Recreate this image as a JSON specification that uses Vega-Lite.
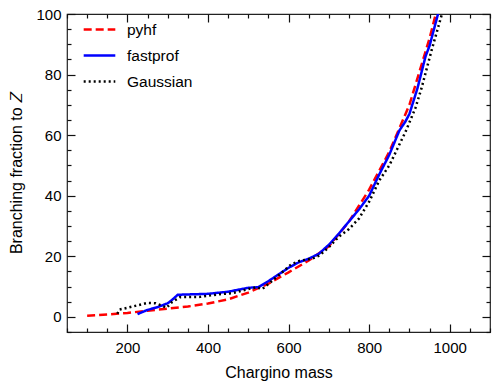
{
  "$schema": "https://vega.github.io/schema/vega-lite/v6.json",
  "width": 423,
  "height": 318,
  "autosize": "none",
  "padding": {"left": 67, "top": 14, "right": 9, "bottom": 56},
  "background": "white",
  "config": {
    "font": "Liberation Sans",
    "view": {"stroke": "#222", "strokeWidth": 1.2},
    "axis": {"grid": false, "domain": false, "tickColor": "#111", "tickWidth": 1.2, "labelColor": "black", "titleColor": "black", "labelFontSize": 15, "titleFontSize": 16, "titleFontWeight": "normal"}
  },
  "data": {"values": [
    {"model": "pyhf", "mass": 100, "bf": 0.4},
    {"model": "pyhf", "mass": 150, "bf": 0.8},
    {"model": "pyhf", "mass": 200, "bf": 1.3},
    {"model": "pyhf", "mass": 250, "bf": 2.0},
    {"model": "pyhf", "mass": 300, "bf": 2.7},
    {"model": "pyhf", "mass": 350, "bf": 3.4},
    {"model": "pyhf", "mass": 400, "bf": 4.4},
    {"model": "pyhf", "mass": 450, "bf": 5.8},
    {"model": "pyhf", "mass": 500, "bf": 8.0},
    {"model": "pyhf", "mass": 550, "bf": 11.0},
    {"model": "pyhf", "mass": 600, "bf": 14.7},
    {"model": "pyhf", "mass": 650, "bf": 18.6},
    {"model": "pyhf", "mass": 700, "bf": 23.3},
    {"model": "pyhf", "mass": 750, "bf": 31.5},
    {"model": "pyhf", "mass": 800, "bf": 42.0},
    {"model": "pyhf", "mass": 850, "bf": 54.5},
    {"model": "pyhf", "mass": 900, "bf": 70.0},
    {"model": "pyhf", "mass": 950, "bf": 92.0},
    {"model": "pyhf", "mass": 975, "bf": 105.0},
    {"model": "fastprof", "mass": 225, "bf": 0.9},
    {"model": "fastprof", "mass": 250, "bf": 2.3},
    {"model": "fastprof", "mass": 275, "bf": 3.2},
    {"model": "fastprof", "mass": 300, "bf": 4.5},
    {"model": "fastprof", "mass": 310, "bf": 5.5},
    {"model": "fastprof", "mass": 325, "bf": 7.3},
    {"model": "fastprof", "mass": 350, "bf": 7.4},
    {"model": "fastprof", "mass": 400, "bf": 7.6},
    {"model": "fastprof", "mass": 450, "bf": 8.3},
    {"model": "fastprof", "mass": 500, "bf": 9.6},
    {"model": "fastprof", "mass": 525, "bf": 9.8},
    {"model": "fastprof", "mass": 550, "bf": 11.8},
    {"model": "fastprof", "mass": 575, "bf": 14.0},
    {"model": "fastprof", "mass": 600, "bf": 16.2},
    {"model": "fastprof", "mass": 625, "bf": 18.0},
    {"model": "fastprof", "mass": 650, "bf": 19.2},
    {"model": "fastprof", "mass": 675, "bf": 20.8},
    {"model": "fastprof", "mass": 700, "bf": 23.8},
    {"model": "fastprof", "mass": 725, "bf": 27.5},
    {"model": "fastprof", "mass": 750, "bf": 31.5},
    {"model": "fastprof", "mass": 775, "bf": 35.5},
    {"model": "fastprof", "mass": 800, "bf": 40.0},
    {"model": "fastprof", "mass": 825, "bf": 47.0},
    {"model": "fastprof", "mass": 850, "bf": 53.5},
    {"model": "fastprof", "mass": 875, "bf": 61.5},
    {"model": "fastprof", "mass": 890, "bf": 64.5},
    {"model": "fastprof", "mass": 900, "bf": 67.0},
    {"model": "fastprof", "mass": 920, "bf": 75.5},
    {"model": "fastprof", "mass": 940, "bf": 86.0},
    {"model": "fastprof", "mass": 950, "bf": 89.5},
    {"model": "fastprof", "mass": 975, "bf": 102.0},
    {"model": "Gaussian", "mass": 175, "bf": 1.0},
    {"model": "Gaussian", "mass": 180, "bf": 2.4},
    {"model": "Gaussian", "mass": 200, "bf": 3.0},
    {"model": "Gaussian", "mass": 225, "bf": 3.8},
    {"model": "Gaussian", "mass": 250, "bf": 4.6},
    {"model": "Gaussian", "mass": 270, "bf": 4.5},
    {"model": "Gaussian", "mass": 285, "bf": 3.7},
    {"model": "Gaussian", "mass": 297, "bf": 3.0},
    {"model": "Gaussian", "mass": 310, "bf": 4.8},
    {"model": "Gaussian", "mass": 330, "bf": 6.5},
    {"model": "Gaussian", "mass": 380, "bf": 6.6},
    {"model": "Gaussian", "mass": 430, "bf": 7.5},
    {"model": "Gaussian", "mass": 460, "bf": 7.8},
    {"model": "Gaussian", "mass": 495, "bf": 9.0},
    {"model": "Gaussian", "mass": 520, "bf": 9.8},
    {"model": "Gaussian", "mass": 535, "bf": 9.2},
    {"model": "Gaussian", "mass": 560, "bf": 12.0},
    {"model": "Gaussian", "mass": 585, "bf": 14.8},
    {"model": "Gaussian", "mass": 607, "bf": 17.4},
    {"model": "Gaussian", "mass": 628, "bf": 18.5},
    {"model": "Gaussian", "mass": 660, "bf": 19.3},
    {"model": "Gaussian", "mass": 677, "bf": 20.3},
    {"model": "Gaussian", "mass": 700, "bf": 23.0},
    {"model": "Gaussian", "mass": 725, "bf": 26.5},
    {"model": "Gaussian", "mass": 750, "bf": 29.0},
    {"model": "Gaussian", "mass": 775, "bf": 32.5},
    {"model": "Gaussian", "mass": 800, "bf": 38.0},
    {"model": "Gaussian", "mass": 825, "bf": 45.0},
    {"model": "Gaussian", "mass": 850, "bf": 50.0},
    {"model": "Gaussian", "mass": 870, "bf": 55.5},
    {"model": "Gaussian", "mass": 890, "bf": 61.0},
    {"model": "Gaussian", "mass": 915, "bf": 69.0},
    {"model": "Gaussian", "mass": 930, "bf": 75.5},
    {"model": "Gaussian", "mass": 955, "bf": 88.0},
    {"model": "Gaussian", "mass": 985, "bf": 102.0}
  ]},
  "layer": [
    {
      "mark": {"type": "line", "clip": true, "strokeWidth": 2.5},
      "encoding": {
        "x": {"field": "mass", "type": "quantitative", "scale": {"domain": [50, 1100], "nice": false, "zero": false},
          "axis": {"orient": "bottom", "title": "Chargino mass", "values": [200, 400, 600, 800, 1000], "format": "d",
            "ticks": false, "labelPadding": 8, "titlePadding": 9, "labelFlush": false}},
        "y": {"field": "bf", "type": "quantitative", "scale": {"domain": [-5, 100], "nice": false, "zero": false},
          "axis": {"orient": "left", "title": "Branching fraction to 𝑍", "values": [0, 20, 40, 60, 80, 100],
            "ticks": false, "labelPadding": 6, "titlePadding": 11, "labelFlush": false}},
        "color": {"field": "model", "type": "nominal", "sort": ["pyhf", "fastprof", "Gaussian"],
          "scale": {"domain": ["pyhf", "fastprof", "Gaussian"], "range": ["#ff0000", "#0000ff", "#000000"]},
          "legend": {"orient": "none", "legendX": 15, "legendY": -2, "title": null, "symbolType": "stroke", "symbolSize": 1000, "symbolStrokeWidth": 2.5, "labelFontSize": 15.5, "labelOffset": 10, "padding": 0, "rowPadding": -2, "labelColor": "black"}},
        "strokeDash": {"field": "model", "type": "nominal", "sort": ["pyhf", "fastprof", "Gaussian"],
          "scale": {"domain": ["pyhf", "fastprof", "Gaussian"], "range": [[8, 4], [1, 0], [2, 3]]},
          "legend": {"orient": "none", "legendX": 15, "legendY": -2, "title": null, "symbolType": "stroke", "symbolSize": 1000, "symbolStrokeWidth": 2.5, "labelFontSize": 15.5, "labelOffset": 10, "padding": 0, "rowPadding": -2, "labelColor": "black"}}
      }
    },
    {
      "mark": {"type": "line", "strokeOpacity": 0, "clip": true},
      "encoding": {
        "x": {"field": "mass", "type": "quantitative",
          "axis": {"orient": "bottom", "title": null, "labels": false, "tickSize": -8, "values": [200, 400, 600, 800, 1000]}},
        "y": {"field": "bf", "type": "quantitative",
          "axis": {"orient": "left", "title": null, "labels": false, "tickSize": -8, "values": [0, 20, 40, 60, 80, 100]}},
        "detail": {"field": "model", "type": "nominal"}
      }
    },
    {
      "mark": {"type": "line", "strokeOpacity": 0, "clip": true},
      "encoding": {
        "x": {"field": "mass", "type": "quantitative",
          "axis": {"orient": "bottom", "title": null, "labels": false, "tickSize": -4,
            "values": [50,100,150,250,300,350,450,500,550,650,700,750,850,900,950,1050,1100]}},
        "y": {"field": "bf", "type": "quantitative",
          "axis": {"orient": "left", "title": null, "labels": false, "tickSize": -4,
            "values": [-5,5,10,15,25,30,35,45,50,55,65,70,75,85,90,95]}},
        "detail": {"field": "model", "type": "nominal"}
      }
    },
    {
      "mark": {"type": "line", "strokeOpacity": 0, "clip": true},
      "encoding": {
        "x": {"field": "mass", "type": "quantitative",
          "axis": {"orient": "top", "title": null, "labels": false, "tickSize": -8, "values": [200, 400, 600, 800, 1000]}},
        "y": {"field": "bf", "type": "quantitative",
          "axis": {"orient": "right", "title": null, "labels": false, "tickSize": -8, "values": [0, 20, 40, 60, 80, 100]}},
        "detail": {"field": "model", "type": "nominal"}
      }
    },
    {
      "mark": {"type": "line", "strokeOpacity": 0, "clip": true},
      "encoding": {
        "x": {"field": "mass", "type": "quantitative",
          "axis": {"orient": "top", "title": null, "labels": false, "tickSize": -4,
            "values": [50,100,150,250,300,350,450,500,550,650,700,750,850,900,950,1050,1100]}},
        "y": {"field": "bf", "type": "quantitative",
          "axis": {"orient": "right", "title": null, "labels": false, "tickSize": -4,
            "values": [-5,5,10,15,25,30,35,45,50,55,65,70,75,85,90,95]}},
        "detail": {"field": "model", "type": "nominal"}
      }
    }
  ],
  "resolve": {"scale": {"x": "shared", "y": "shared"}, "axis": {"x": "independent", "y": "independent"}}
}
